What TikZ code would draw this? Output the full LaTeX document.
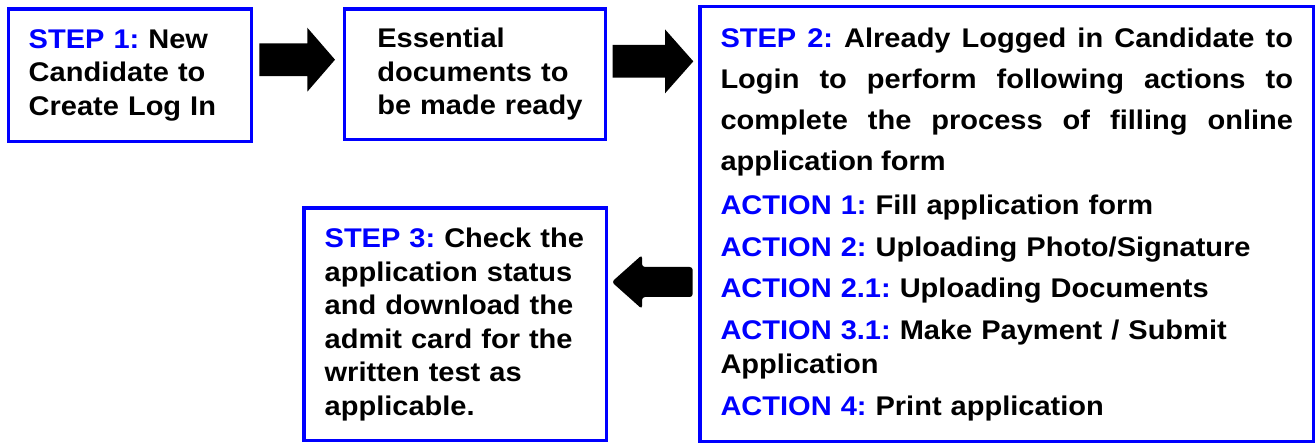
\documentclass[tikz,border=0pt]{standalone}
\usepackage{fontspec}
\setmainfont{Liberation Sans}[FakeStretch=1.075]
\usetikzlibrary{calc}
\definecolor{stepblue}{RGB}{0,0,255}
\newcommand{\stp}[1]{\textcolor{stepblue}{#1}}
\hfuzz=20pt
\frenchspacing

\begin{document}
\begin{tikzpicture}[x=1pt, y=-1pt,
    stepbox/.style={draw=stepblue, line width=3.2pt, outer sep=0pt, inner sep=0pt, anchor=north west, align=left, font=\fontsize{27}{33.5}\selectfont\bfseries},
    actionbox/.style={draw=stepblue, line width=3.2pt, outer sep=0pt, inner sep=0pt, anchor=north west, font=\fontsize{27}{34.7}\selectfont\bfseries},
    arrowfill/.style={fill=black}]
    \useasboundingbox (0,0) rectangle (1315,443);

    \node[stepbox, text width=202.6pt, minimum width=243.4pt, minimum height=132.7pt] (step1) at (8.3,9) {\stp{STEP 1:} New\\Candidate~to\\Create~Log~In};
    \node[stepbox, text width=195.4pt, minimum width=261.4pt, minimum height=130.3pt] (docs) at (344.3,9) {Essential\\documents~to\\be~made~ready};
    \node[actionbox, text width=572.5pt, minimum width=613.5pt, minimum height=435.3pt] (step2) at (700,6.7) {\parindent=0pt\parskip=6.8pt
        {\rightskip=0pt\leftskip=0pt\parfillskip=0pt plus 1fil\baselineskip=40.9pt
        \spaceskip=0.278em plus 1em minus 0.05em
        \stp{STEP 2:} Already Logged in Candidate to\linebreak Login to perform following actions to\linebreak complete the process of filling online\linebreak application form\par}
        \vspace{2.9pt}\raggedright
        \stp{ACTION 1:} Fill application form\par
        \stp{ACTION 2:} Uploading Photo/Signature\par
        \stp{ACTION 2.1:} Uploading Documents\par
        \stp{ACTION 3.1:} Make Payment / Submit Application\par
        \stp{ACTION 4:} Print application\par};
    \node[stepbox, text width=261pt, minimum width=302.3pt, minimum height=232.8pt] (step3) at (304,208) {\stp{STEP~3:}~Check~the\\application~status\\and~download~the\\admit~card~for~the\\written~test~as\\applicable.};

    \coordinate (a1) at ($(step1.east)+(7.6,-15.65)$);
    \coordinate (a2) at ($(docs.east)+(7,-12.8)$);
    \coordinate (a3) at ($(step2.west)+(-7.3,57.65)$);
    \fill[arrowfill] (a1) ++(0,-16.35) -- ++(48,0) -- ++(0,-15.65) -- ++(27.7,32) -- ++(-27.7,32) -- ++(0,-15.65) -- ++(-48,0) -- cycle;
    \fill[arrowfill] (a2) ++(0,-16.35) -- ++(52.3,0) -- ++(0,-15.65) -- ++(28.3,32) -- ++(-28.3,32) -- ++(0,-15.65) -- ++(-52.3,0) -- cycle;
    \fill[arrowfill, rounded corners=3pt] (a3) ++(0,-15) -- ++(-50.7,0) -- ++(0,-12) -- ++(-30.3,27) -- ++(30.3,27) -- ++(0,-12) -- ++(50.7,0) -- cycle;
\end{tikzpicture}
\end{document}
